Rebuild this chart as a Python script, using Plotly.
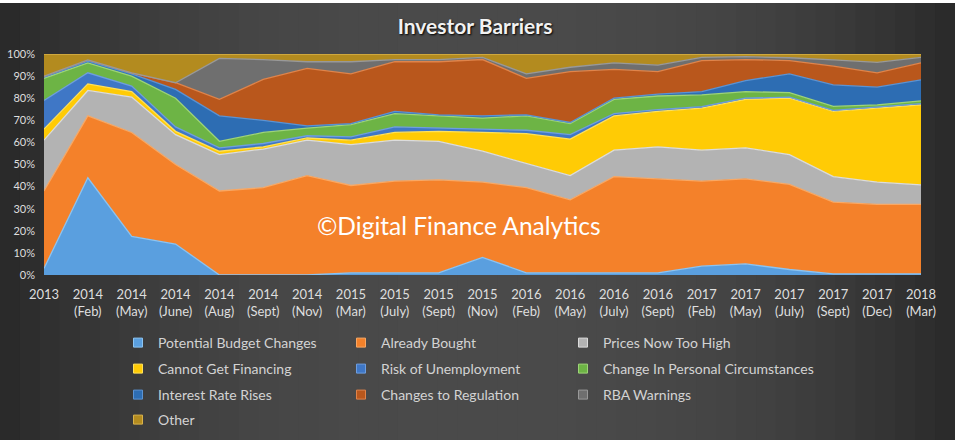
import plotly.graph_objects as go

# ---------------- data (shares in %) ----------------
periods = ["2013", "2014 (Feb)", "2014 (May)", "2014 (June)", "2014 (Aug)", "2014 (Sept)",
           "2014 (Nov)", "2015 (Mar)", "2015 (July)", "2015 (Sept)", "2015 (Nov)", "2016 (Feb)",
           "2016 (May)", "2016 (July)", "2016 (Sept)", "2017 (Feb)", "2017 (May)", "2017 (July)",
           "2017 (Sept)", "2017 (Dec)", "2018 (Mar)"]

potential_budget_changes = [3, 44, 17.5, 14, 0, 0, 0, 1, 1, 1, 8, 1, 1, 1, 1, 4, 5, 2.5, 0.5, 0.5, 0.5]
already_bought = [35, 28, 47, 36, 38, 39.5, 45, 39.5, 41.5, 42, 34, 38.5, 33, 43.5, 42.5, 38.5, 38.5, 38.5, 32.5, 31.5, 31.5]
prices_now_too_high = [23, 11.5, 16, 13.5, 16.5, 17.5, 16, 18.5, 18.5, 17.5, 14, 11, 11, 12, 14.5, 14, 14, 13.5, 11.5, 10, 8.8]
cannot_get_financing = [5, 3, 2.5, 1.5, 1.5, 1, 1, 2, 3.5, 4.5, 8.5, 13.5, 16.5, 15.5, 16, 19, 22, 25.5, 29.5, 33.5, 36.2]
risk_of_unemployment = [13, 5, 2.5, 2, 1.5, 1.5, 1, 1.5, 2.5, 1.5, 1.5, 1.5, 2, 1, 0.8, 0.7, 0.5, 0.5, 0.5, 0.5, 0.5]
change_in_personal_circumstances = [10, 4.5, 4.5, 13, 3, 5, 3.5, 5.5, 6, 5.5, 5, 6.5, 5, 6.5, 6.2, 5.3, 3, 2, 1.8, 1, 1.3]
interest_rate_rises = [0.5, 0.8, 1, 4, 11.5, 5.5, 1, 0.5, 1, 0.5, 1, 0.5, 0.5, 0.5, 0.8, 1.5, 5, 8.5, 9.7, 8, 9.5]
changes_to_regulation = [0.5, 0.5, 0.5, 3, 7.5, 18.5, 26, 22.5, 22.5, 24, 25.5, 16.5, 23, 13, 10.2, 14, 9.5, 6, 8.5, 6.5, 7.7]
rba_warnings = [0, 0, 0, 0, 18.5, 9, 3, 5.5, 1, 1, 1, 2, 2, 3, 3, 1.5, 1.3, 1.3, 2.8, 4.7, 2.5]
other = [10, 2.7, 8.5, 13, 2, 2.5, 3.5, 3.5, 2.5, 2.5, 1.5, 9, 6, 4, 5, 1.5, 1.2, 1.7, 2.7, 3.8, 1.5]

series_names = ["Potential Budget Changes", "Already Bought", "Prices Now Too High",
                "Cannot Get Financing", "Risk of Unemployment", "Change In Personal Circumstances",
                "Interest Rate Rises", "Changes to Regulation", "RBA Warnings", "Other"]
series_values = [potential_budget_changes, already_bought, prices_now_too_high,
                 cannot_get_financing, risk_of_unemployment, change_in_personal_circumstances,
                 interest_rate_rises, changes_to_regulation, rba_warnings, other]

tick_labels = [p.replace(" ", "<br>") for p in periods]

# ---------------- styles ----------------
fills = ["#5A9FDF", "#F4812A", "#B3B3B3", "#FFCB05", "#3F77C6", "#6DB445",
         "#2D6DB3", "#B9571C", "#6F6F6F", "#B38B1F"]
edges = ["#8CC4F2", "#F9A864", "#DCDCDC", "#FFE15A", "#6E9EE0", "#9ED478",
         "#5B93D3", "#E0844A", "#999999", "#D9B24A"]

W, H = 955, 440
ML, MR, MT, MB = 44, 34, 54, 165
PW, PH = W - ML - MR, H - MT - MB

def px_x(px):
    return (px - ML) / PW

def px_y(py):
    return (H - MB - py) / PH

fig = go.Figure()

for name, vals, fc, ec in zip(series_names, series_values, fills, edges):
    fig.add_trace(go.Scatter(
        x=tick_labels, y=vals, name=name, stackgroup="one", groupnorm="percent",
        mode="lines", line=dict(width=1.3, color=ec), fillcolor=fc, showlegend=False,
        hovertemplate=name + ": %{y:.1f}%<extra></extra>"))

# one small legend per entry, laid out as a 3-column grid
col_text_x = [158, 381, 603]
row_y = [343, 369, 395, 420]
legend_layout = {}
for i, name in enumerate(series_names):
    lid = "legend" if i == 0 else f"legend{i + 1}"
    r, c = divmod(i, 3)
    fig.add_trace(go.Scatter(
        x=[None], y=[None], mode="markers", name=name,
        marker=dict(symbol="square", size=9, color=fills[i],
                    line=dict(width=1, color=edges[i])),
        legend=lid, showlegend=True))
    legend_layout[lid] = dict(
        orientation="h", xanchor="left", yanchor="middle",
        x=px_x(col_text_x[c] - 40), y=px_y(row_y[r]),
        font=dict(family="Lato", size=14, color="#D3D3D3"),
        bgcolor="rgba(0,0,0,0)", itemwidth=30)

# background gradient strips
shapes = []
N = 48
for k in range(N):
    x0 = k * W / N
    x1 = (k + 1) * W / N
    t = abs(((x0 + x1) / 2 - 480) / 480)
    v = int(round(40 + 34 * (1 - t ** 2.5)))
    shapes.append(dict(type="rect", xref="paper", yref="paper", layer="below",
                       x0=px_x(x0), x1=px_x(x1 + 1), y0=px_y(H), y1=px_y(0),
                       fillcolor=f"rgb({v},{v},{v})", line=dict(width=0)))
shapes.append(dict(type="rect", xref="paper", yref="paper", layer="above",
                   x0=px_x(0), x1=px_x(W), y0=px_y(3), y1=px_y(0),
                   fillcolor="#FFFFFF", line=dict(width=0)))

fig.update_layout(
    width=W, height=H,
    margin=dict(l=ML, r=MR, t=MT, b=MB, autoexpand=False),
    paper_bgcolor="#404040", plot_bgcolor="rgba(0,0,0,0)",
    font=dict(family="Lato", color="#D9D9D9"),
    title=dict(text="<b>Investor Barriers</b>", x=475 / W, y=1 - 27 / H,
               xanchor="center", yanchor="middle", xref="container", yref="container",
               font=dict(family="Lato", size=21, color="#F2F2F2",
                         shadow="1px 1px 2px #000000")),
    xaxis=dict(type="category", range=[0, len(periods) - 1], showgrid=False,
               zeroline=False, showline=False, ticks="", tickangle=0,
               ticklabelstandoff=10,
               tickfont=dict(family="Lato", size=13, color="#DEDEDE")),
    yaxis=dict(range=[0, 100], dtick=10, ticksuffix="%", showgrid=False,
               zeroline=False, showline=False, ticks="", ticklabelstandoff=8,
               tickfont=dict(family="Lato", size=11, color="#DEDEDE")),
    shapes=shapes,
    annotations=[dict(text="©Digital Finance Analytics", xref="paper", yref="paper",
                      x=px_x(459), y=px_y(225), xanchor="center", yanchor="middle",
                      showarrow=False, font=dict(family="Lato", size=24.5, color="#FFFFFF"))],
    **legend_layout,
)

fig.write_html("out.html", config={"displayModeBar": False},
               post_script="document.body.style.margin='0px';")
